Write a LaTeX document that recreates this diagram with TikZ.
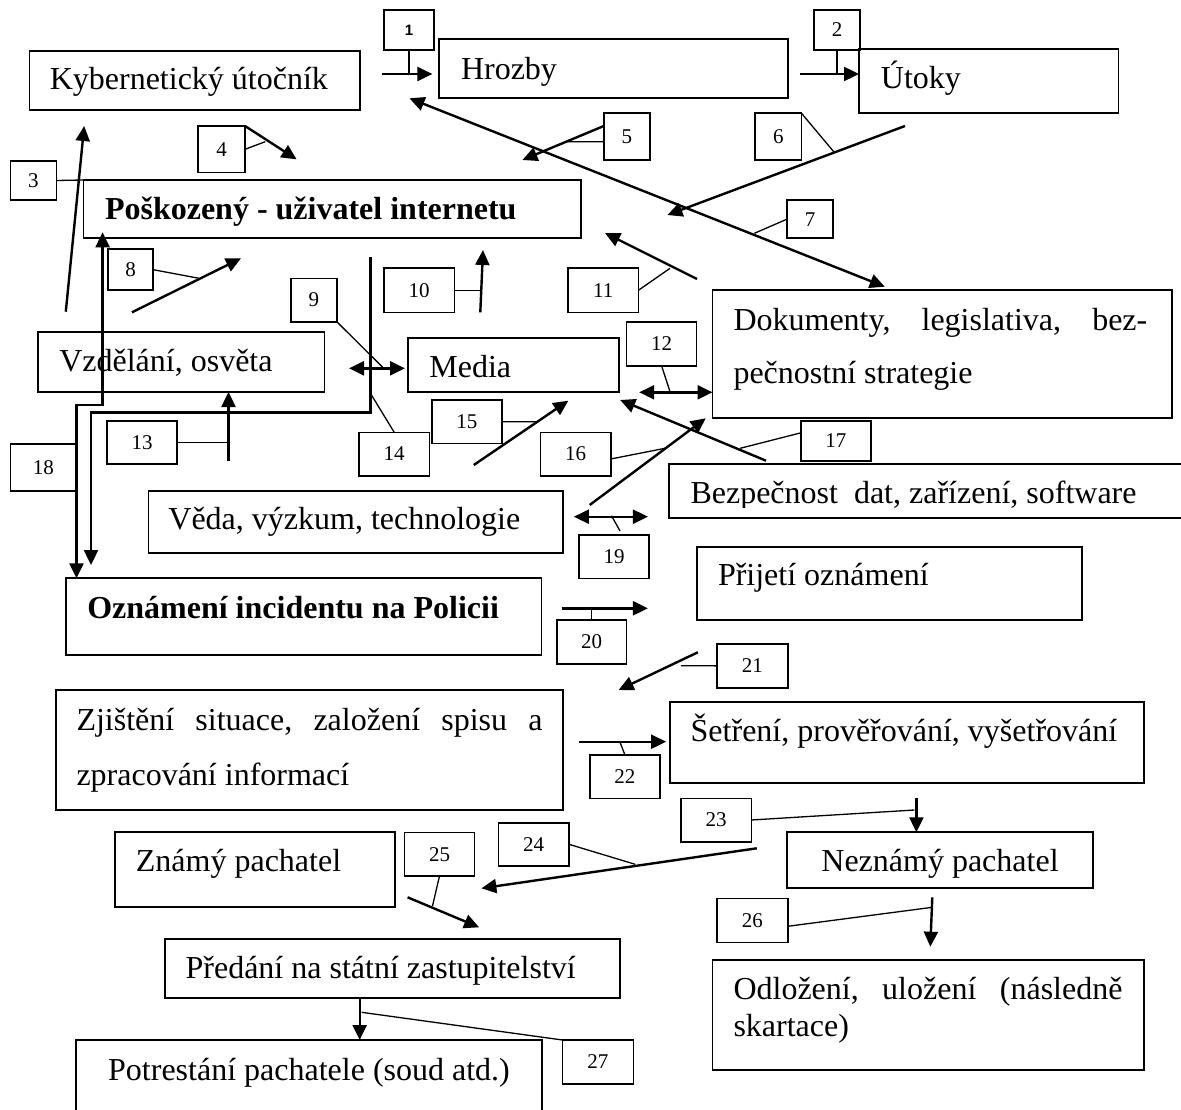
\documentclass[tikz,border=0pt]{standalone}
\usepackage{fontspec}
\setmainfont{LiberationSerif}[Extension=.ttf, UprightFont=*-Regular, BoldFont=*-Bold, ItalicFont=*-Italic, BoldItalicFont=*-BoldItalic]
\newfontfamily\labelsans{Liberation Sans}
\usetikzlibrary{arrows.meta}

\tikzset{
  box/.style={draw, line width=1.8pt, anchor=north west, inner sep=0pt, outer sep=0pt},
  lbl/.style={draw, line width=1.6pt, anchor=north west, inner sep=0pt, outer sep=0pt, font=\fontsize{21}{25}\selectfont},
  txt/.style={anchor=base west, inner sep=0pt, outer sep=0pt, font=\fontsize{32}{38}\selectfont},
  btxt/.style={txt, font=\fontsize{32}{38}\selectfont\bfseries},
  arr/.style={line width=2.4pt, -{Triangle[length=15pt,width=14pt]}},
  darr/.style={line width=2.4pt, {Triangle[length=15pt,width=14pt]}-{Triangle[length=15pt,width=14pt]}},
  tick/.style={line width=1.3pt},
}
\newcommand\bx[5]{\node[box, minimum width=#4pt-#2pt, minimum height=#5pt-#3pt] (#1) at (#2,#3) {};}
\newcommand\lb[6]{\node[lbl, minimum width=#4pt-#2pt, minimum height=#5pt-#3pt] (#1) at (#2,#3) {#6};}

\begin{document}
\begin{tikzpicture}[x=1pt,y=-1pt]
\useasboundingbox (0,0) rectangle (1181,1110);
\fill[white] (0,0) rectangle (1181,1110);
\clip (0,0) rectangle (1181,1110);

% ---------- main boxes ----------
\bx{kyb}{29.5}{50.7}{359.7}{110}
\node[txt] (kyb-t) at (49.8,90) {Kybernetický útočník};
\bx{hro}{439.3}{39.3}{787.7}{98.3}
\node[txt] (hro-t) at (461,80) {Hrozby};
\bx{uto}{859}{49.3}{1118.5}{113.3}
\node[txt] (uto-t) at (880.9,88.3) {Útoky};
\bx{pos}{83.4}{180}{581}{238.3}
\node[btxt] (pos-t) at (105,220) {Poškozený - uživatel internetu};
\bx{vzd}{38}{331.7}{324.5}{392}
\node[txt] (vzd-t) at (59.3,371.7) {Vzdělání, osvěta};
\bx{med}{408.3}{338.3}{618.6}{392.3}
\node[txt] (med-t) at (429.4,377.3) {Media};
\bx{dok}{712.5}{290}{1172}{417.7}
\node[txt] (dok-t1) at (733.5,330) {\hbox to 413.8pt{Dokumenty,\hfill legislativa,\hfill bez-}};
\node[txt] (dok-t2) at (733.5,383.3) {pečnostní strategie};
\bx{bez}{669.3}{464}{1195}{518.3}
\begin{scope}
  \clip (660,440) rectangle (1181,507);
  \node[txt] (bez-t) at (690.5,503.3) {Bezpečnost\ \ dat, zařízení, software};
\end{scope}
\bx{ved}{148.5}{490.7}{563.3}{553.3}
\node[txt] (ved-t) at (168.4,529.3) {Věda, výzkum, technologie};
\bx{ozn}{65.8}{578.3}{541.5}{655}
\node[btxt] (ozn-t) at (87.3,618.3) {Oznámení incidentu na Policii};
\bx{pri}{697.3}{546.7}{1081.7}{620}
\node[txt] (pri-t) at (718,585) {Přijetí oznámení};
\bx{zji}{56.3}{690}{563.3}{810}
\node[txt] (zji-t1) at (76.5,730) {\hbox to 466pt{Zjištění\hfill situace,\hfill založení\hfill spisu\hfill a}};
\node[txt] (zji-t2) at (76.5,785) {zpracování informací};
\bx{set}{669.7}{702.3}{1144.2}{783.3}
\node[txt] (set-t) at (690.7,741.7) {Šetření, prověřování, vyšetřování};
\bx{zna}{114.8}{832.3}{395.3}{907.3}
\node[txt] (zna-t) at (135.9,871.7) {Známý pachatel};
\bx{nez}{787}{832.3}{1092.7}{888.3}
\node[txt, anchor=base] (nez-t) at (940,871.7) {Neznámý pachatel};
\bx{pre}{164.6}{939}{620.2}{998.3}
\node[txt] (pre-t) at (185.6,978.3) {Předání na státní zastupitelství};
\bx{pot}{76}{1040}{541.7}{1140}
\node[txt, anchor=base] (pot-t) at (309,1080) {Potrestání pachatele (soud atd.)};
\bx{odl}{712.5}{960}{1144.2}{1070}
\node[txt] (odl-t1) at (733.5,999.3) {\hbox to 389pt{Odložení,\hfill uložení\hfill (následně}};
\node[txt] (odl-t2) at (733.5,1036.7) {skartace)};

% ---------- number labels ----------
\lb{l1}{384}{10}{434}{50}{\labelsans\fontsize{15}{18}\selectfont\bfseries 1}
\lb{l2}{814}{10}{860}{50}{2}
\lb{l3}{10.3}{161}{56.6}{200}{3}
\lb{l4}{198}{126}{245}{172.7}{4}
\lb{l5}{603.8}{113.3}{649.8}{160}{5}
\lb{l6}{755}{113.3}{801.5}{160}{6}
\lb{l7}{787}{200}{833}{238.3}{7}
\lb{l8}{108}{249.3}{153}{290}{8}
\lb{l9}{290.8}{278.3}{336.8}{321.7}{9}
\lb{l10}{383.8}{268.3}{454.6}{312.3}{10}
\lb{l11}{568}{268.3}{638.4}{312.3}{11}
\lb{l12}{626.5}{321.7}{696.6}{365.7}{12}
\lb{l13}{107}{420.7}{177.2}{464}{13}
\lb{l14}{359}{432.3}{429.4}{475.7}{14}
\lb{l15}{431.7}{400}{502.1}{443.3}{15}
\lb{l16}{540.4}{432.3}{610.7}{475.7}{16}
\lb{l17}{800.8}{421}{870.9}{460.7}{17}
\lb{l18}{10.3}{444}{76.5}{490.7}{18}
\lb{l19}{579}{535}{649.1}{578.3}{19}
\lb{l20}{556.8}{620}{626.5}{664}{20}
\lb{l21}{717.2}{644}{787.7}{687.7}{21}
\lb{l22}{589.7}{755}{660.2}{798.3}{22}
\lb{l23}{680.8}{798.3}{751.3}{841.7}{23}
\lb{l24}{498.3}{822.7}{569.1}{866}{24}
\lb{l25}{404.5}{832.3}{474.5}{876}{25}
\lb{l26}{717.2}{898.3}{787.7}{942.3}{26}
\lb{l27}{562.6}{1040}{633.3}{1084}{27}

% ---------- free ends of connectors ----------
\coordinate (a1s) at (381.5,74);   \coordinate (a1e) at (432.4,74);
\coordinate (a2s) at (800.4,74);
\coordinate (a3s) at (65.8,311.7); \coordinate (a3e) at (84.2,126);
\coordinate (a4e) at (296.6,159.3); \coordinate (t4) at (265.2,141.7);
\coordinate (a5s) at (603.8,126);  \coordinate (a5e) at (522.4,160); \coordinate (t5) at (566,141.7);
\coordinate (a6s) at (905,126);    \coordinate (a6e) at (667.4,215); \coordinate (t6) at (833.7,151.7);
\coordinate (a7s) at (409.5,98.3); \coordinate (a7e) at (884.8,286.7); \coordinate (t7) at (754.4,233.3);
\coordinate (a8s) at (132,312.3);  \coordinate (a8e) at (241,258.3); \coordinate (t8) at (199,278.3);
\coordinate (a9s) at (349,368.3);  \coordinate (a9e) at (405,368.3); \coordinate (t9) at (382.7,367.3);
\coordinate (a10s) at (480.3,312.3); \coordinate (a10e) at (483,250); \coordinate (t10) at (480.8,290.3);
\coordinate (a11s) at (697,279);   \coordinate (a11e) at (605,233); \coordinate (t11) at (670,268.3);
\coordinate (a12s) at (639.2,392.3); \coordinate (t12) at (670,391.7);
\coordinate (a13s) at (228.5,460.7);
\coordinate (a14s) at (370.4,257.3); \coordinate (a14c) at (91,412.3); \coordinate (a14e) at (91,565); \coordinate (t14) at (370.4,393.3);
\coordinate (a15s) at (473.8,465); \coordinate (a15e) at (568.3,400.7); \coordinate (t15) at (535.8,421.7);
\coordinate (a16s) at (589.7,505); \coordinate (a16e) at (705.7,418.3); \coordinate (t16) at (665,448.3);
\coordinate (a17s) at (766,460.7); \coordinate (a17e) at (620.2,400); \coordinate (t17) at (740.2,448.3);
\coordinate (a18s) at (102.6,232.3); \coordinate (a18c) at (76.5,405);
\coordinate (a19s) at (573.9,516.7); \coordinate (a19e) at (647.9,516.7); \coordinate (t19) at (611.5,515.7);
\coordinate (a20s) at (561.8,608.3); \coordinate (a20e) at (647.9,608.3);
\coordinate (a21s) at (697.8,652.3); \coordinate (a21e) at (618.6,690); \coordinate (t21) at (680.8,665.8);
\coordinate (a22s) at (579,741.7);  \coordinate (a22e) at (666.1,741.7); \coordinate (t22) at (620.2,742.7);
\coordinate (a23s) at (916.4,798.3); \coordinate (t23) at (914.5,810);
\coordinate (a24s) at (756.8,848.3); \coordinate (a24e) at (481.4,888.3); \coordinate (t24) at (635.2,864.3);
\coordinate (a25s) at (407.6,897.3); \coordinate (a25e) at (479.1,927.3); \coordinate (t25) at (432.5,906);
\coordinate (a26s) at (932.3,897.3); \coordinate (a26e) at (930.3,946.7); \coordinate (t26) at (932.3,907.3);
\coordinate (a27s) at (359.7,998.3); \coordinate (t27) at (361.6,1012.3);

% ---------- arrows ----------
\draw[arr] (a1s) -- (a1e);
\draw[tick] (l1.south) -- (l1.south |- a1s);
\draw[arr] (a2s) -- (uto.west |- a2s);
\draw[tick] (l2.south) -- (l2.south |- a2s);
\draw[arr] (a3s) -- (a3e);
\draw[tick] (l3.east) -- (pos.north west);
\draw[arr] (l4.north east) -- (a4e);
\draw[tick] (l4.east) -- (t4);
\draw[arr] (a5s) -- (a5e);
\draw[tick] ([yshift=-5pt]l5.west) -- (t5);
\draw[arr] (a6s) -- (a6e);
\draw[tick] (l6.north east) -- (t6);
\draw[darr] (a7s) -- (a7e);
\draw[tick] (l7.west) -- (t7);
\draw[arr] (a8s) -- (a8e);
\draw[tick] (l8.east) -- (t8);
\draw[darr] (a9s) -- (a9e);
\draw[tick] (l9.south east) -- (t9);
\draw[arr] (a10s) -- (a10e);
\draw[tick] (l10.east) -- (t10);
\draw[arr] (a11s) -- (a11e);
\draw[tick] (l11.east) -- (t11);
\draw[darr] (a12s) -- (dok.west |- a12s);
\draw[tick] (l12.south) -- (t12);
\draw[arr] (a13s) -- (vzd.south -| a13s);
\draw[tick] (l13.east) -- (l13.east -| a13s);
\draw[arr] (a14s) |- (a14c) -- (a14e);
\draw[tick] (l14.north) -- (t14);
\draw[arr] (a15s) -- (a15e);
\draw[tick] (l15.east) -- (t15);
\draw[arr] (a16s) -- (a16e);
\draw[tick] ([yshift=-5pt]l16.east) -- (t16);
\draw[arr] (a17s) -- (a17e);
\draw[tick] ([yshift=8pt]l17.west) -- (t17);
\draw[darr] (a18s) |- (a18c) -- (ozn.north -| a18c);
\draw[darr] (a19s) -- (a19e);
\draw[tick] ([xshift=6pt,yshift=4pt]l19.north) -- (t19);
\draw[arr] (a20s) -- (a20e);
\draw[tick] (l20.north) -- (l20.north |- a20s);
\draw[arr] (a21s) -- (a21e);
\draw[tick] (l21.west) -- (t21);
\draw[arr] (a22s) -- (a22e);
\draw[tick] (l22.north) -- (t22);
\draw[arr] (a23s) -- (nez.north -| a23s);
\draw[tick] (l23.east) -- (t23);
\draw[arr] (a24s) -- (a24e);
\draw[tick] (l24.east) -- (t24);
\draw[arr] (a25s) -- (a25e);
\draw[tick] (l25.south) -- (t25);
\draw[arr] (a26s) -- (a26e);
\draw[tick] ([yshift=-6pt]l26.east) -- (t26);
\draw[arr] (a27s) -- (pot.north -| a27s);
\draw[tick] (l27.north west) -- (t27);
\end{tikzpicture}
\end{document}
